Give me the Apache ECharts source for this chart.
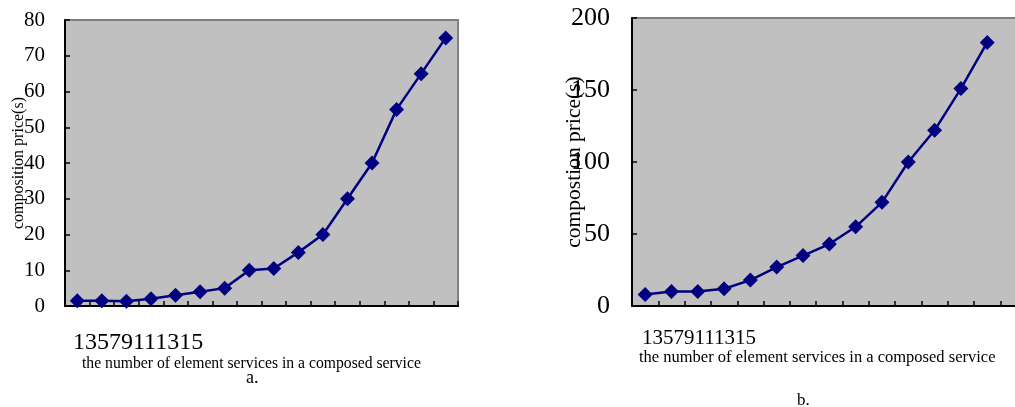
<!DOCTYPE html>
<html>
<head>
<meta charset="utf-8">
<script src="https://cdn.jsdelivr.net/npm/echarts@6/dist/echarts.min.js"></script>
<style>
html,body{margin:0;padding:0;background:#fff;}
#c{width:1015px;height:407px;}
</style>
</head>
<body>
<div id="c"></div>
<script>
const categories = ['1','2','3','4','5','6','7','8','9','10','11','12','13','14','15','16'];
const xTickLabels = ['1','3','5','7','9','11','13','15'];
const priceA = [1.5, 1.5, 1.3, 2, 3, 4, 5, 10, 10.5, 15, 20, 30, 40, 55, 65, 75];
const priceB = [8, 10, 10, 12, 18, 27, 35, 43, 55, 72, 100, 122, 151, 183];
const xTitle = 'the number of element services in a composed service';
const yTitleA = 'composition price(s)';
const yTitleB = 'compostion price(s)';
const captionA = 'a.';
const captionB = 'b.';

const FONT = '"Liberation Serif", "DejaVu Serif", serif';
const NAVY = '#000080';

function xAxisCfg(idx) {
  return {
    type: 'category', gridIndex: idx, data: categories, boundaryGap: true,
    axisLine: {show: true, lineStyle: {color: '#000', width: 2}},
    axisTick: {show: true, inside: true, length: 5, lineStyle: {color: '#000', width: 1.5}},
    axisLabel: {show: false}, splitLine: {show: false}
  };
}
function yAxisCfg(idx, max, interval, name, nameSize, gap, labelSize, margin) {
  return {
    type: 'value', gridIndex: idx, min: 0, max: max, interval: interval,
    name: name, nameLocation: 'middle', nameGap: gap, nameMoveOverlap: false,
    nameTextStyle: {fontFamily: FONT, fontSize: nameSize, color: '#000'},
    axisLine: {show: true, lineStyle: {color: '#000', width: 2}},
    axisTick: {show: true, inside: true, length: 5, lineStyle: {color: '#000', width: 1.5}},
    axisLabel: {fontFamily: FONT, fontSize: labelSize, color: '#000', margin: margin},
    splitLine: {show: false}
  };
}
function seriesCfg(idx, data) {
  return {
    type: 'line', xAxisIndex: idx, yAxisIndex: idx, data: data,
    symbol: 'diamond', symbolSize: 15, showSymbol: true,
    lineStyle: {color: NAVY, width: 2.5},
    itemStyle: {color: NAVY},
    animation: false, silent: true
  };
}

const chart = echarts.init(document.getElementById('c'));
chart.setOption({
  animation: false,
  grid: [
    {left: 65, top: 20, width: 393, height: 286, outerBoundsMode: 'none', containLabel: false, show: true, backgroundColor: '#C0C0C0', borderColor: '#808080', borderWidth: 2},
    {left: 632, top: 18, width: 421, height: 288, outerBoundsMode: 'none', containLabel: false, show: true, backgroundColor: '#C0C0C0', borderColor: '#808080', borderWidth: 2}
  ],
  xAxis: [xAxisCfg(0), xAxisCfg(1)],
  yAxis: [
    yAxisCfg(0, 80, 10, yTitleA, 16, 38, 21, 20),
    yAxisCfg(1, 200, 50, yTitleB, 21.5, 47, 26, 22)
  ],
  series: [seriesCfg(0, priceA), seriesCfg(1, priceB)],
  graphic: [
    {type: 'text', left: 73, top: 331, style: {text: xTickLabels.join(''), font: '24px ' + FONT, fill: '#000'}},
    {type: 'text', left: 642, top: 328, style: {text: xTickLabels.join(''), font: '21px ' + FONT, fill: '#000'}},
    {type: 'text', left: 82, top: 356, style: {text: xTitle, font: '15.7px ' + FONT, fill: '#000'}},
    {type: 'text', left: 639, top: 349, style: {text: xTitle, font: '16.5px ' + FONT, fill: '#000'}},
    {type: 'text', left: 246, top: 369, style: {text: captionA, font: '18px ' + FONT, fill: '#000'}},
    {type: 'text', left: 797, top: 392, style: {text: captionB, font: '17px ' + FONT, fill: '#000'}}
  ]
});
</script>
</body>
</html>
